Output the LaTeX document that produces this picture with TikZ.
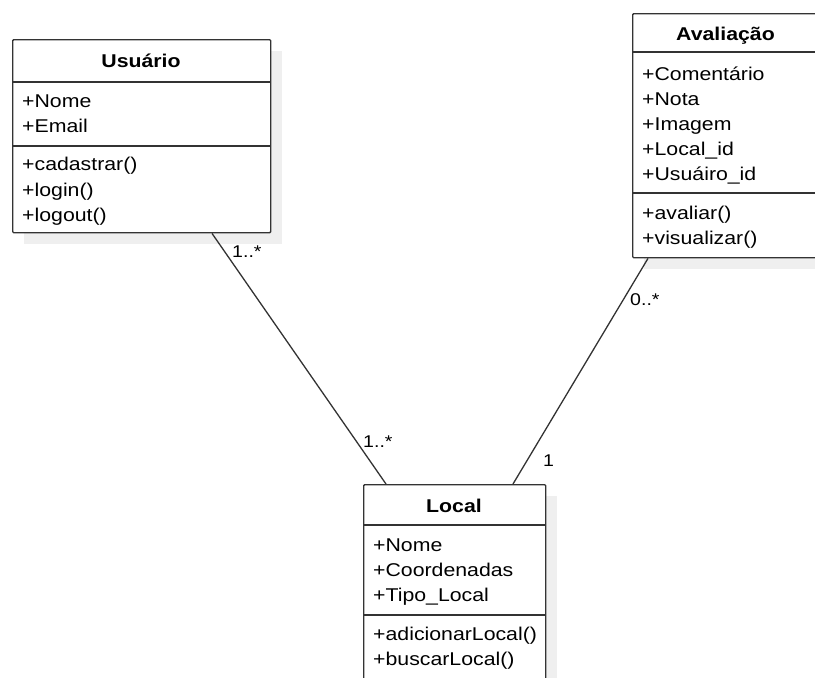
\documentclass[tikz,border=0pt]{standalone}
\usepackage{fontspec}
\setmainfont[FakeStretch=1.15]{Liberation Sans}
\usetikzlibrary{calc}

\definecolor{edge}{HTML}{333333}
\definecolor{shade}{HTML}{EFEFEF}

\tikzset{
  classbox/.style={draw=edge, line width=1.4pt, fill=white, rounded corners=1pt,
                   inner sep=0pt, anchor=north west},
  shadowbox/.style={fill=shade, draw=none},
  sepline/.style={draw=edge, line width=1.4pt},
  member/.style={anchor=base west, inner sep=0pt, font=\fontsize{18.5}{22}\selectfont, text=black},
  title/.style={anchor=base, inner sep=0pt, font=\fontsize{18.5}{22}\selectfont\bfseries, text=black},
  mult/.style={anchor=base west, inner sep=0pt, font=\fontsize{17}{20}\selectfont, text=black},
  assoc/.style={draw=edge, line width=1.3pt},
}

\begin{document}
\begin{tikzpicture}[x=1pt, y=-1pt]
  \useasboundingbox (0,0) rectangle (815,678);
  \clip (0,0) rectangle (815,678);

  % --- Usuario ---
  \fill[shadowbox] (24,51) rectangle (282,244);
  \node[classbox, minimum width=258pt, minimum height=193pt] (usuario) at (12,39) {};
  \draw[sepline] (12,82) -- (270,82);
  \draw[sepline] (12,146) -- (270,146);
  \node[title] (uT) at (141,67) {Usuário};
  \node[member] (u1) at (22,107) {+Nome};
  \node[member] (u2) at (22,132) {+Email};
  \node[member] (u3) at (22,170) {+cadastrar()};
  \node[member] (u4) at (22,196) {+login()};
  \node[member] (u5) at (22,221) {+logout()};

  % --- Avaliacao ---
  \fill[shadowbox] (644,25) rectangle (831,269);
  \node[classbox, minimum width=187pt, minimum height=244pt] (avaliacao) at (632,13) {};
  \draw[sepline] (632,52) -- (819,52);
  \draw[sepline] (632,193) -- (819,193);
  \node[title] (aT) at (725.5,40) {Avaliação};
  \node[member] (a1) at (642,80) {+Comentário};
  \node[member] (a2) at (642,105) {+Nota};
  \node[member] (a3) at (642,130) {+Imagem};
  \node[member] (a4) at (642,155) {+Local\_id};
  \node[member] (a5) at (642,180) {+Usuáiro\_id};
  \node[member] (a6) at (642,219) {+avaliar()};
  \node[member] (a7) at (642,244) {+visualizar()};

  % --- Local ---
  \fill[shadowbox] (375,496) rectangle (557,700);
  \node[classbox, minimum width=182pt, minimum height=204pt] (local) at (363,484) {};
  \draw[sepline] (363,525) -- (545,525);
  \draw[sepline] (363,615) -- (545,615);
  \node[title] (lT) at (454,512) {Local};
  \node[member] (l1) at (373,551) {+Nome};
  \node[member] (l2) at (373,576) {+Coordenadas};
  \node[member] (l3) at (373,601) {+Tipo\_Local};
  \node[member] (l4) at (373,640) {+adicionarLocal()};
  \node[member] (l5) at (373,665) {+buscarLocal()};

  % --- association end points on the box borders ---
  \coordinate (uEnd) at ($(usuario.south west)+(200,0)$);
  \coordinate (lEndU) at ($(local.north west)+(23,0)$);
  \coordinate (aEnd) at ($(avaliacao.south west)+(16,0)$);
  \coordinate (lEndA) at ($(local.north west)+(150,0)$);

  \draw[assoc] (uEnd) -- (lEndU);
  \draw[assoc] (aEnd) -- (lEndA);

  % --- multiplicities ---
  \node[mult] (m1) at (232,257) {1..*};
  \node[mult] (m2) at (363,447) {1..*};
  \node[mult] (m3) at (630,305) {0..*};
  \node[mult] (m4) at (543,466) {1};
\end{tikzpicture}
\end{document}
